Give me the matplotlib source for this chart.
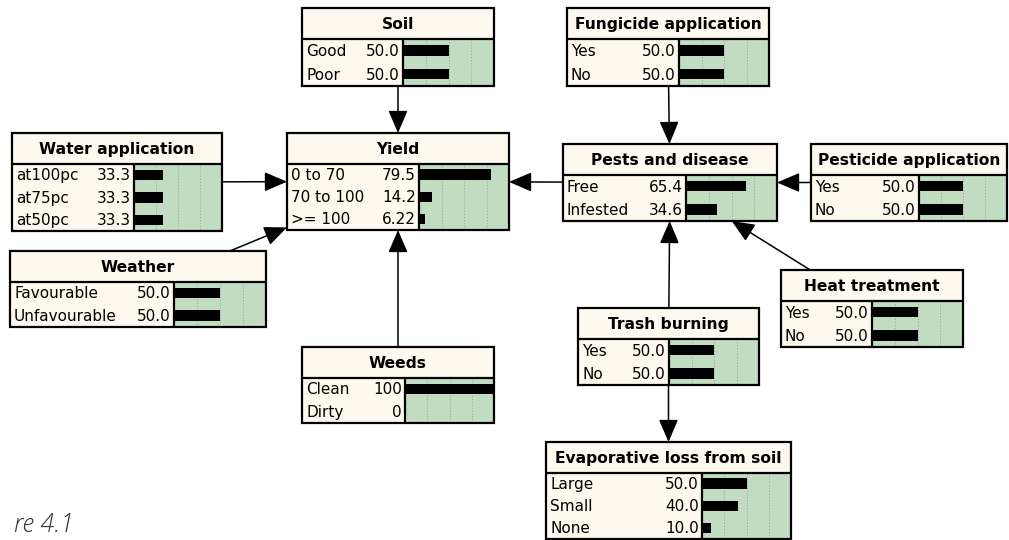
import matplotlib.pyplot as plt
from matplotlib.patches import Rectangle, FancyArrowPatch

# node data: states and belief (%)
soil_states = ["Good", "Poor"]
soil_probs = [50.0, 50.0]
yield_states = ["0 to 70", "70 to 100", ">= 100"]
yield_probs = [79.5, 14.2, 6.22]
water_states = ["at100pc", "at75pc", "at50pc"]
water_probs = [33.3, 33.3, 33.3]
weather_states = ["Favourable", "Unfavourable"]
weather_probs = [50.0, 50.0]
weeds_states = ["Clean", "Dirty"]
weeds_probs = [100, 0]
fungicide_states = ["Yes", "No"]
fungicide_probs = [50.0, 50.0]
pests_states = ["Free", "Infested"]
pests_probs = [65.4, 34.6]
pesticide_states = ["Yes", "No"]
pesticide_probs = [50.0, 50.0]
heat_states = ["Yes", "No"]
heat_probs = [50.0, 50.0]
trash_states = ["Yes", "No"]
trash_probs = [50.0, 50.0]
evap_states = ["Large", "Small", "None"]
evap_probs = [50.0, 40.0, 10.0]

nodes = {
    "Soil": (soil_states, soil_probs),
    "Yield": (yield_states, yield_probs),
    "Water application": (water_states, water_probs),
    "Weather": (weather_states, weather_probs),
    "Weeds": (weeds_states, weeds_probs),
    "Fungicide application": (fungicide_states, fungicide_probs),
    "Pests and disease": (pests_states, pests_probs),
    "Pesticide application": (pesticide_states, pesticide_probs),
    "Heat treatment": (heat_states, heat_probs),
    "Trash burning": (trash_states, trash_probs),
    "Evaporative loss from soil": (evap_states, evap_probs),
}

edges = [
    ("Soil", "Yield"),
    ("Water application", "Yield"),
    ("Weather", "Yield"),
    ("Weeds", "Yield"),
    ("Pests and disease", "Yield"),
    ("Fungicide application", "Pests and disease"),
    ("Pesticide application", "Pests and disease"),
    ("Heat treatment", "Pests and disease"),
    ("Trash burning", "Pests and disease"),
    ("Trash burning", "Evaporative loss from soil"),
]

# layout in pixels: x0, y0, x1, y1, split between labels and bars
layout = {
    "Soil": (302, 8, 494, 86, 403),
    "Yield": (287, 133, 509, 230, 419),
    "Water application": (12, 133, 222, 231, 134),
    "Weather": (10, 251, 266, 327, 174),
    "Weeds": (302, 347, 494, 423, 405),
    "Fungicide application": (567, 8, 769, 86, 679),
    "Pests and disease": (563, 144, 777, 221, 686),
    "Pesticide application": (811, 144, 1007, 221, 919),
    "Heat treatment": (781, 270, 963, 347, 872),
    "Trash burning": (578, 308, 759, 385, 669),
    "Evaporative loss from soil": (546, 442, 791, 539, 702),
}

TITLE_H = 30.5
CREAM = "#fdf9ee"
GREEN = "#c2dcc2"


def fmt(p):
    if p == 100 or p == 0:
        return "%d" % p
    if p < 10:
        return "%.2f" % p
    return "%.1f" % p


def draw_node(ax, name):
    states, probs = nodes[name]
    x0, y0, x1, y1, sp = layout[name]
    ty = y0 + TITLE_H
    rh = (y1 - ty) / len(states)
    bw = x1 - sp
    ax.add_patch(Rectangle((x0, y0), x1 - x0, y1 - y0, fc=CREAM, ec="none", zorder=2))
    ax.add_patch(Rectangle((sp, ty), bw, y1 - ty, fc=GREEN, ec="none", zorder=2))
    for f in (0.25, 0.5, 0.75):
        ax.vlines(sp + f * bw, ty, y1, colors="#9a9a9a", linestyles=(0, (1, 2)), lw=0.7, zorder=3)
    centers = [ty + rh * (i + 0.5) for i in range(len(states))]
    ax.barh(centers, [p / 100 * bw for p in probs], left=sp, height=10.5,
            color="black", zorder=4)
    ax.add_patch(Rectangle((x0, y0), x1 - x0, y1 - y0, fc="none", ec="black", lw=1.6, zorder=5))
    ax.hlines(ty, x0, x1, colors="black", lw=1.6, zorder=5)
    ax.vlines(sp, ty, y1, colors="black", lw=1.6, zorder=5)
    ax.text((x0 + x1) / 2, y0 + TITLE_H / 2 + 1, name, ha="center", va="center",
            fontsize=11.2, fontweight="bold", family="DejaVu Sans", zorder=6)
    for c, s, p in zip(centers, states, probs):
        ax.text(x0 + 4, c + 1, s, ha="left", va="center", fontsize=11, zorder=6)
        ax.text(sp - 3, c + 1, fmt(p), ha="right", va="center", fontsize=11, zorder=6)


def clip(box, cx, cy, tx, ty):
    # point where the line from the box centre towards (tx, ty) leaves the box
    x0, y0, x1, y1 = box[:4]
    dx, dy = tx - cx, ty - cy
    ts = []
    if dx:
        ts.append(((x1 if dx > 0 else x0) - cx) / dx)
    if dy:
        ts.append(((y1 if dy > 0 else y0) - cy) / dy)
    t = min(ts)
    return cx + t * dx, cy + t * dy


fig = plt.figure(figsize=(10.09, 5.40), dpi=100)
ax = fig.add_axes([0, 0, 1, 1])
ax.set_xlim(0, 1009)
ax.set_ylim(540, 0)
ax.axis("off")

for a, b in edges:
    la, lb = layout[a], layout[b]
    ca = ((la[0] + la[2]) / 2, (la[1] + la[3]) / 2)
    cb = ((lb[0] + lb[2]) / 2, (lb[1] + lb[3]) / 2)
    p0 = clip(la, ca[0], ca[1], cb[0], cb[1])
    p1 = clip(lb, cb[0], cb[1], ca[0], ca[1])
    arr = FancyArrowPatch(p0, p1, arrowstyle="-|>,head_length=0.7,head_width=0.3",
                          mutation_scale=20, color="black", lw=1.1,
                          shrinkA=0, shrinkB=0, zorder=1)
    ax.add_patch(arr)

for name in nodes:
    draw_node(ax, name)

# the caption is cut by the left edge in the source, only its tail shows
ax.text(74, 538, "re 4.1", ha="right", va="bottom", fontsize=18,
        style="italic", family="Open Sans", fontweight="light", color="#333333")

fig.savefig("out.png", dpi=100)
